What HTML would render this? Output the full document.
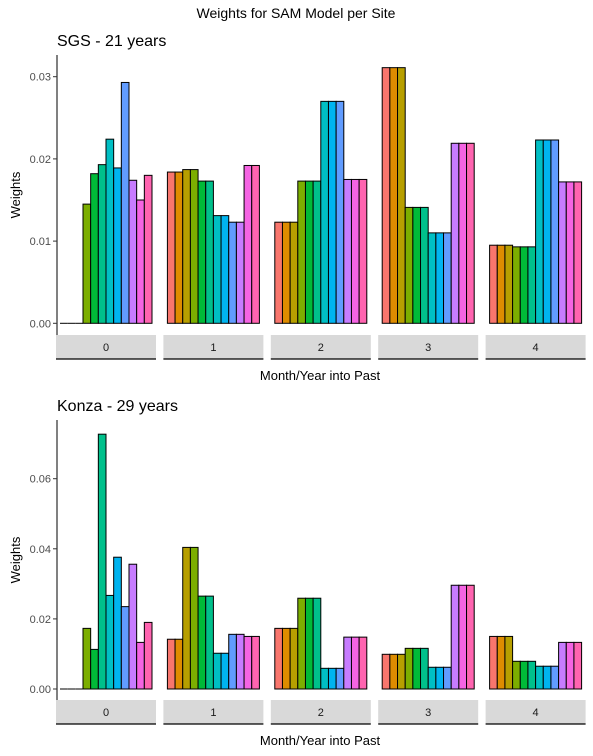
<!DOCTYPE html>
<html><head><meta charset="utf-8"><style>
body{margin:0;background:#fff}
svg{display:block;font-family:"Liberation Sans",sans-serif}
</style></head><body>
<svg id="c" width="593" height="756" xmlns="http://www.w3.org/2000/svg">
<text x="296" y="18" text-anchor="middle" font-size="14" fill="#000">Weights for SAM Model per Site</text>
</svg>
<script>
const colors=["#F8766D","#DE8C00","#B79F00","#7CAE00","#00BA38","#00C08B","#00BFC4","#00B4F0","#619CFF","#C77CFF","#F564E3","#FF64B0"];
const facetLabels=["0","1","2","3","4"];
const sgsTicks=[0,0.01,0.02,0.03];
const sgsTickLabels=["0.00","0.01","0.02","0.03"];
const konzaTicks=[0,0.02,0.04,0.06];
const konzaTickLabels=["0.00","0.02","0.04","0.06"];
const sgs0=[0,0,0,0.0145,0.0182,0.0193,0.0224,0.0189,0.0293,0.0174,0.0150,0.0180];
const sgs1=[0.0184,0.0184,0.0187,0.0187,0.0173,0.0173,0.0131,0.0131,0.0123,0.0123,0.0192,0.0192];
const sgs2=[0.0123,0.0123,0.0123,0.0173,0.0173,0.0173,0.0270,0.0270,0.0270,0.0175,0.0175,0.0175];
const sgs3=[0.0311,0.0311,0.0311,0.0141,0.0141,0.0141,0.0110,0.0110,0.0110,0.0219,0.0219,0.0219];
const sgs4=[0.0095,0.0095,0.0095,0.0093,0.0093,0.0093,0.0223,0.0223,0.0223,0.0172,0.0172,0.0172];
const konza0=[0,0,0,0.0173,0.0113,0.0727,0.0267,0.0376,0.0235,0.0356,0.0133,0.0190];
const konza1=[0.0142,0.0142,0.0404,0.0404,0.0265,0.0265,0.0102,0.0102,0.0156,0.0156,0.0150,0.0150];
const konza2=[0.0173,0.0173,0.0173,0.0259,0.0259,0.0259,0.0059,0.0059,0.0059,0.0148,0.0148,0.0148];
const konza3=[0.0099,0.0099,0.0099,0.0116,0.0116,0.0116,0.0062,0.0062,0.0062,0.0296,0.0296,0.0296];
const konza4=[0.0150,0.0150,0.0150,0.0079,0.0079,0.0079,0.0065,0.0065,0.0065,0.0133,0.0133,0.0133];
const NS="http://www.w3.org/2000/svg";
const svg=document.getElementById('c');
function mk(t,a,txt){const e=document.createElementNS(NS,t);for(const k in a)e.setAttribute(k,a[k]);if(txt!==undefined)e.textContent=txt;svg.appendChild(e);return e;}
function panel(name,title,off,zeroY,pxPerUnit,ticks,tickLabels,facets){
  const y=v=>zeroY-v*pxPerUnit;
  let t=mk('text',{x:57,y:46+off,'font-size':16,fill:'#000'},title);
  
  let ax=mk('line',{x1:57,x2:57,y1:55+off,y2:335+off,stroke:'#000','stroke-width':1});
  
  ticks.forEach((v,i)=>{
    let tk=mk('line',{x1:53,x2:57,y1:y(v),y2:y(v),stroke:'#333'});
    
    let tl=mk('text',{x:51,y:y(v)+4,'text-anchor':'end','font-size':11,fill:'#4d4d4d'},tickLabels[i]);
    
  });
  let yt=mk('text',{x:0,y:0,transform:`translate(20,${(55+335)/2+off}) rotate(-90)`,'text-anchor':'middle','font-size':13,fill:'#000'},'Weights');
  
  facets.forEach((vals,f)=>{
    const sx=56+107.4*f;
    const bw=92/12;
    vals.forEach((v,i)=>{
      const x=sx+4+i*bw;
      if(v<=0){
        let l=mk('line',{x1:x,x2:x+bw,y1:zeroY,y2:zeroY,stroke:'#000','stroke-width':1});
        
        return;
      }
      let r=mk('rect',{x:x,y:y(v),width:bw,height:zeroY-y(v),fill:colors[i],stroke:'#000','stroke-width':1});
      
    });
    let s=mk('rect',{x:sx,y:335+off,width:100,height:24,fill:'#d9d9d9'});
    
    let sl=mk('line',{x1:sx,x2:sx+100,y1:359+off,y2:359+off,stroke:'#000','stroke-width':1.2});
    
    let st=mk('text',{x:sx+50,y:351+off,'text-anchor':'middle','font-size':11,fill:'#1a1a1a'},facetLabels[f]);
    
  });
  let xt=mk('text',{x:320,y:380+off,'text-anchor':'middle','font-size':13,fill:'#000'},'Month/Year into Past');
  
}
panel('sgs','SGS - 21 years',0,323.3,8220,sgsTicks,sgsTickLabels,[sgs0,sgs1,sgs2,sgs3,sgs4]);
panel('konza','Konza - 29 years',365,689,3505,konzaTicks,konzaTickLabels,[konza0,konza1,konza2,konza3,konza4]);
</script>
</body></html>
